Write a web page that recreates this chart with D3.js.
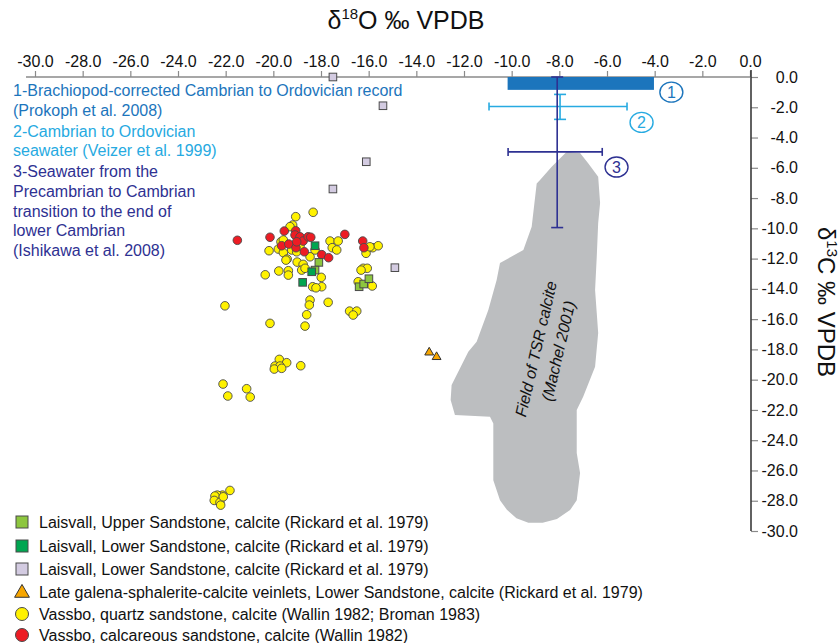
<!DOCTYPE html>
<html><head><meta charset="utf-8">
<script src="https://cdn.jsdelivr.net/npm/d3@7"></script>
<style>body{margin:0;background:#fff}svg{display:block}text{font-family:"Liberation Sans",Arial,Helvetica,sans-serif}</style>
</head><body>
<script>
// ---------- data ----------
const xTicks = d3.range(-30, 0.01, 2);
const yTicks = d3.range(0, -30.01, -2);

const laisvallUpper = [[-18.09,-12.25],[-18.25,-12.76],[-16.40,-13.86],[-16.21,-13.68],[-15.99,-13.33]];
const laisvallLowerGreen = [[-18.25,-11.15],[-18.77,-13.57],[-18.39,-12.87]];
const laisvallLowerGray = [[-17.5,0.0],[-15.4,-1.9],[-16.1,-5.6],[-17.5,-7.4],[-14.9,-12.6]];
const lateVeinlets = [[-13.46,-18.2],[-13.15,-18.5]];
const vassboQuartz = [
 [-19.06,-9.23],[-18.33,-8.94],[-19.19,-9.78],[-19.30,-9.89],[-19.68,-10.89],[-19.58,-10.77],
 [-20.18,-11.48],[-19.79,-11.37],[-19.58,-11.61],[-19.42,-12.03],[-19.23,-11.43],[-19.02,-11.55],
 [-18.46,-11.88],[-18.25,-11.43],[-19.00,-12.23],[-18.75,-12.38],[-18.81,-12.76],[-18.67,-12.64],
 [-19.77,-12.82],[-19.37,-12.80],[-19.37,-13.09],[-20.34,-13.07],[-17.99,-13.24],[-18.35,-13.86],
 [-17.97,-13.86],[-18.21,-13.93],[-17.62,-10.84],[-17.28,-10.84],[-17.53,-11.28],[-17.34,-11.43],
 [-16.11,-11.65],[-15.83,-11.28],[-15.60,-11.15],[-15.95,-11.22],[-16.23,-12.64],[-16.06,-12.64],
 [-16.32,-12.76],[-16.44,-13.53],[-15.85,-13.81],[-18.46,-14.74],[-18.49,-15.07],[-17.70,-14.89],
 [-22.03,-15.12],[-16.80,-15.47],[-16.50,-15.47],[-16.65,-15.73],[-18.60,-15.71],[-20.14,-16.28],
 [-18.67,-16.46],[-19.47,-12.10],[-18.88,-11.17],
 [-19.75,-18.66],[-19.44,-18.88],[-19.93,-19.10],[-19.72,-19.10],[-19.96,-19.30],[-19.65,-19.25],
 [-18.85,-19.08],[-22.11,-20.29],[-21.12,-20.60],[-21.91,-21.08],[-20.97,-21.15],
 [-21.82,-27.32],[-22.13,-27.63],[-22.35,-27.63],[-22.45,-27.69],[-22.48,-27.98],[-22.24,-28.11],
 [-22.21,-28.29],[-22.10,-27.74]
];
const vassboCalcareous = [
 [-21.51,-10.79],[-20.14,-10.59],[-19.54,-10.18],[-19.06,-10.16],[-19.09,-10.44],[-18.88,-10.56],
 [-18.75,-10.84],[-18.54,-10.56],[-18.43,-10.59],[-19.65,-11.15],[-19.35,-11.04],[-19.05,-11.28],
 [-18.70,-11.55],[-17.97,-11.74],[-17.68,-11.94],[-17.00,-10.40],[-16.25,-10.84],[-16.20,-11.28],
 [-19.02,-10.89]
];
// TSR calcite field outline (Machel 2001)
const tsrField = [
 [-7.69,-4.94],[-7.13,-5.02],[-6.79,-5.70],[-6.37,-6.59],[-6.29,-8.33],[-6.37,-9.65],[-6.43,-11.88],
 [-6.50,-14.08],[-6.43,-15.60],[-6.37,-16.92],[-6.50,-19.15],[-7.00,-21.13],[-7.27,-22.01],
 [-7.27,-24.85],[-7.13,-26.17],[-7.27,-27.96],[-7.55,-28.62],[-8.10,-29.20],[-8.70,-29.45],
 [-9.30,-29.45],[-9.80,-29.15],[-10.20,-28.60],[-10.49,-27.96],[-10.77,-26.64],[-10.77,-22.89],
 [-10.91,-22.45],[-12.38,-22.34],[-12.56,-21.35],[-12.52,-20.36],[-11.82,-18.16],[-11.47,-17.50],
 [-10.98,-15.40],[-10.63,-13.42],[-10.49,-12.29],[-9.51,-11.43],[-9.16,-9.89],[-8.95,-7.03],
 [-8.81,-6.81],[-8.32,-5.93]
];
// seawater references
const prokophBar = {x0:-10.17, x1:-4.03, y0:0, y1:-0.85};
const veizerBar = {x:-7.97, y:-1.95, xlo:-10.95, xhi:-5.16, ylo:-1.15, yhi:-2.8};
const ishikawaBar = {x:-8.09, y:-4.95, xlo:-10.15, xhi:-6.2, ylo:0, yhi:-9.95};
const refLabels = [
 {n:"1", x:-3.3, y:-1.0, c:"#1c75bc"},
 {n:"2", x:-4.55, y:-3.0, c:"#27aae1"},
 {n:"3", x:-5.6, y:-5.95, c:"#2e3192"}
];
const noteLines = [
 {t:"1-Brachiopod-corrected Cambrian to Ordovician record", c:"#1c75bc"},
 {t:"(Prokoph et al. 2008)", c:"#1c75bc"},
 {t:"2-Cambrian to Ordovician", c:"#27aae1"},
 {t:"seawater (Veizer et al. 1999)", c:"#27aae1"},
 {t:"3-Seawater from the", c:"#2e3192"},
 {t:"Precambrian to Cambrian", c:"#2e3192"},
 {t:"transition to the end of", c:"#2e3192"},
 {t:"lower Cambrian", c:"#2e3192"},
 {t:"(Ishikawa et al. 2008)", c:"#2e3192"}
];
const noteY = [90,110,131.5,150.5,171.5,191.5,211.5,230.5,250];
const legendItems = [
 {label:"Laisvall, Upper Sandstone, calcite (Rickard et al. 1979)", shape:"square", fill:"#8dc63f"},
 {label:"Laisvall, Lower Sandstone, calcite (Rickard et al. 1979)", shape:"square", fill:"#00a651"},
 {label:"Laisvall, Lower Sandstone, calcite (Rickard et al. 1979)", shape:"square", fill:"#d3cbe1"},
 {label:"Late galena-sphalerite-calcite veinlets, Lower Sandstone, calcite (Rickard et al. 1979)", shape:"triangle", fill:"#f7a600"},
 {label:"Vassbo, quartz sandstone, calcite (Wallin 1982; Broman 1983)", shape:"circle", fill:"#fff200"},
 {label:"Vassbo, calcareous sandstone, calcite (Wallin 1982)", shape:"circle", fill:"#ed1c24"}
];
const legendY = [522,546,569,592,614,635];

// ---------- chart ----------
const W = 840, H = 643;
const svg = d3.select("body").append("svg").attr("width", W).attr("height", H);
const x = d3.scaleLinear().domain([-30, 0]).range([35, 750]);
const y = d3.scaleLinear().domain([0, -30]).range([77, 531]);
const fmt = v => v.toFixed(1);

// TSR field
svg.append("path").datum(tsrField)
  .attr("d", d3.line().x(d => x(d[0])).y(d => y(d[1])).curve(d3.curveLinearClosed))
  .attr("fill", "#bcbec0").attr("stroke", "none");
const tsrText = svg.append("g").attr("fill", "#111").attr("font-size", 16).attr("font-style", "italic").attr("text-anchor", "middle");
tsrText.append("text").attr("transform", `translate(${x(-8.98)},${y(-17.97)}) rotate(-77)`).attr("dy", "0.35em").text("Field of TSR calcite");
tsrText.append("text").attr("transform", `translate(${x(-8.04)},${y(-18.1)}) rotate(-77)`).attr("dy", "0.35em").text("(Machel 2001)");

// x axis
const xAxis = svg.append("g").attr("transform", `translate(0,${y(0)})`)
  .call(d3.axisTop(x).tickValues(xTicks).tickFormat(fmt).tickSize(6).tickSizeOuter(0).tickPadding(4));
xAxis.select(".domain").remove();
xAxis.selectAll(".tick line").attr("stroke", "#8a8a8a").attr("stroke-width", 1.2);
xAxis.selectAll(".tick text").attr("font-size", 16).attr("fill", "#111");
svg.append("line").attr("x1", x.range()[0] - 9).attr("x2", x.range()[1]).attr("y1", y(0)).attr("y2", y(0))
  .attr("stroke", "#8a8a8a").attr("stroke-width", 1.5);

// y axis
const yAxis = svg.append("g").attr("transform", `translate(${x(0) + 1},0)`)
  .call(d3.axisRight(y).tickValues(yTicks).tickFormat(fmt).tickSize(7).tickSizeOuter(0).tickPadding(4));
yAxis.select(".domain").remove();
yAxis.selectAll(".tick line").attr("stroke", "#8a8a8a").attr("stroke-width", 1.2);
yAxis.selectAll(".tick text").attr("font-size", 16).attr("fill", "#111").attr("text-anchor", "end").attr("x", 47);
svg.append("line").attr("x1", x(0) + 1).attr("x2", x(0) + 1).attr("y1", y(0) - 7).attr("y2", y(-30))
  .attr("stroke", "#3a3a3a").attr("stroke-width", 1.6);

// titles
const t1 = svg.append("text").attr("x", 406).attr("y", 29).attr("text-anchor", "middle").attr("font-size", 25).attr("fill", "#111");
t1.append("tspan").text("δ");
t1.append("tspan").attr("font-size", 15).attr("dy", -10).text("18");
t1.append("tspan").attr("dy", 10).text("O ‰ VPDB");
const t2 = svg.append("text").attr("transform", `translate(818,302) rotate(90)`).attr("text-anchor", "middle").attr("font-size", 24).attr("fill", "#111");
t2.append("tspan").text("δ");
t2.append("tspan").attr("font-size", 15).attr("dy", -9).text("13");
t2.append("tspan").attr("dy", 9).text("C ‰ VPDB");

// seawater references
svg.append("rect").attr("x", x(prokophBar.x0)).attr("y", y(prokophBar.y0))
  .attr("width", x(prokophBar.x1) - x(prokophBar.x0)).attr("height", y(prokophBar.y1) - y(prokophBar.y0))
  .attr("fill", "#1c75bc");
function errBar(b, color) {
  const g = svg.append("g").attr("stroke", color).attr("stroke-width", 1.6).attr("fill", "none");
  g.append("line").attr("x1", x(b.xlo)).attr("x2", x(b.xhi)).attr("y1", y(b.y)).attr("y2", y(b.y));
  g.append("line").attr("x1", x(b.x)).attr("x2", x(b.x)).attr("y1", y(b.ylo)).attr("y2", y(b.yhi));
  [b.xlo, b.xhi].forEach(v => g.append("line").attr("x1", x(v)).attr("x2", x(v)).attr("y1", y(b.y) - 4).attr("y2", y(b.y) + 4));
  [b.ylo, b.yhi].forEach(v => g.append("line").attr("x1", x(b.x) - 6).attr("x2", x(b.x) + 6).attr("y1", y(v)).attr("y2", y(v)));
}
errBar(veizerBar, "#27aae1");
errBar(ishikawaBar, "#2e3192");
refLabels.forEach(l => {
  svg.append("ellipse").attr("cx", x(l.x)).attr("cy", y(l.y)).attr("rx", 11.5).attr("ry", 10)
    .attr("fill", "#fff").attr("stroke", l.c).attr("stroke-width", 1.4);
  svg.append("text").attr("x", x(l.x)).attr("y", y(l.y)).attr("dy", "0.36em").attr("text-anchor", "middle")
    .attr("font-size", 16).attr("fill", l.c).text(l.n);
});

// notes
svg.append("g").selectAll("text").data(noteLines).join("text")
  .attr("x", 13).attr("y", (d, i) => noteY[i]).attr("dy", "0.36em")
  .attr("font-size", 16).attr("fill", d => d.c).text(d => d.t);

// points
const ptStroke = "#4a4a4a";
function squares(data, fill) {
  svg.append("g").selectAll("rect").data(data).join("rect")
    .attr("x", d => x(d[0]) - 3.8).attr("y", d => y(d[1]) - 3.8).attr("width", 7.6).attr("height", 7.6)
    .attr("fill", fill).attr("stroke", ptStroke).attr("stroke-width", 1);
}
function circles(data, fill) {
  svg.append("g").selectAll("circle").data(data).join("circle")
    .attr("cx", d => x(d[0])).attr("cy", d => y(d[1])).attr("r", 4.3)
    .attr("fill", fill).attr("stroke", ptStroke).attr("stroke-width", 0.9);
}
const tri = d3.symbol().type(d3.symbolTriangle).size(34);
circles(vassboQuartz, "#fff200");
circles(vassboCalcareous, "#ed1c24");
squares(laisvallUpper, "#8dc63f");
squares(laisvallLowerGreen, "#00a651");
squares(laisvallLowerGray, "#d3cbe1");
svg.append("g").selectAll("path").data(lateVeinlets).join("path")
  .attr("transform", d => `translate(${x(d[0])},${y(d[1])})`).attr("d", tri)
  .attr("fill", "#f7a600").attr("stroke", "#333").attr("stroke-width", 1);

// legend
const lg = svg.append("g");
legendItems.forEach((it, i) => {
  const cy = legendY[i], cx = 22;
  if (it.shape === "square") lg.append("rect").attr("x", cx - 6).attr("y", cy - 6).attr("width", 12).attr("height", 12)
    .attr("fill", it.fill).attr("stroke", ptStroke).attr("stroke-width", 1);
  else if (it.shape === "circle") lg.append("circle").attr("cx", cx).attr("cy", cy).attr("r", 6.5)
    .attr("fill", it.fill).attr("stroke", ptStroke).attr("stroke-width", 1);
  else lg.append("path").attr("transform", `translate(${cx},${cy + 1})`).attr("d", d3.symbol().type(d3.symbolTriangle).size(95))
    .attr("fill", it.fill).attr("stroke", "#333").attr("stroke-width", 1);
  lg.append("text").attr("x", 39).attr("y", cy).attr("dy", "0.36em").attr("font-size", 16).attr("fill", "#111").text(it.label);
});
</script>
</body></html>
